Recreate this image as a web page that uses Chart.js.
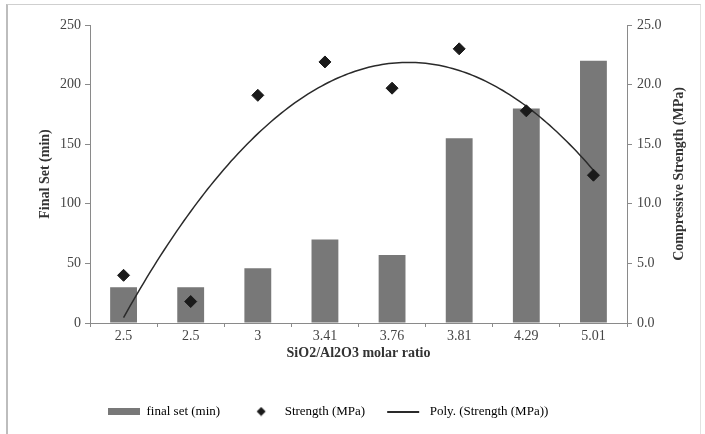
<!DOCTYPE html>
<html><head><meta charset="utf-8">
<script src="https://cdn.jsdelivr.net/npm/chart.js@4"></script>
<style>
html,body{margin:0;padding:0;background:#fff;}
#wrap{position:relative;width:705px;height:434px;overflow:hidden;}
#frame{position:absolute;left:6px;top:4px;width:692px;height:440px;border-top:1px solid #cfcfcf;border-left:2px solid #bdbdbd;border-right:1px solid #e2e2e2;pointer-events:none;}
canvas{position:absolute;left:0;top:0;}
</style></head><body>
<div id="wrap"><canvas id="c" width="705" height="434"></canvas><div id="frame"></div></div>
<script>
// ---- data ----
const categories = ['2.5', '2.5', '3', '3.41', '3.76', '3.81', '4.29', '5.01'];
const finalSet = [30, 30, 46, 70, 57, 155, 180, 220];
const strength = [4.0, 1.8, 19.1, 21.9, 19.7, 23.0, 17.8, 12.4];
const leftTicks = [0, 50, 100, 150, 200, 250];
const rightTicks = [0, 5, 10, 15, 20, 25];
const seriesNames = ['final set (min)', 'Strength (MPa)', 'Poly. (Strength (MPa))'];
const xTitle = 'SiO2/Al2O3 molar ratio';
const yTitle = 'Final Set (min)';
const y1Title = 'Compressive Strength (MPa)';

// ---- order-2 polynomial trendline (least squares, like the spreadsheet) ----
function polyFit2(xs, ys) {
  const s = [0, 0, 0, 0, 0], t = [0, 0, 0];
  for (let i = 0; i < xs.length; i++) {
    for (let k = 0; k < 5; k++) s[k] += Math.pow(xs[i], k);
    for (let k = 0; k < 3; k++) t[k] += Math.pow(xs[i], k) * ys[i];
  }
  const M = [[s[0], s[1], s[2], t[0]], [s[1], s[2], s[3], t[1]], [s[2], s[3], s[4], t[2]]];
  for (let c = 0; c < 3; c++) {
    for (let r = c + 1; r < 3; r++) {
      const f = M[r][c] / M[c][c];
      for (let k = c; k < 4; k++) M[r][k] -= f * M[c][k];
    }
  }
  const co = [0, 0, 0];
  for (let r = 2; r >= 0; r--) {
    let v = M[r][3];
    for (let k = r + 1; k < 3; k++) v -= M[r][k] * co[k];
    co[r] = v / M[r][r];
  }
  return co;
}
const xIdx = strength.map((_, i) => i + 1);
const coef = polyFit2(xIdx, strength);
const trend = [];
for (let i = 0; i <= 140; i++) {
  const xi = i * (strength.length - 1) / 140;
  const xv = xi + 1;
  trend.push({ x: xi, y: coef[0] + coef[1] * xv + coef[2] * xv * xv });
}

// ---- legend swatches (50px wide boxes with left margin) ----
function swatch(w, h, draw) {
  const c = document.createElement('canvas');
  c.width = w; c.height = h;
  draw(c.getContext('2d'));
  return c;
}
const barSw = swatch(50, 7, g => { g.fillStyle = '#787878'; g.fillRect(18, 0, 32, 7); });
const dmSw = swatch(50, 10, g => { g.fillStyle = '#1a1a1a'; g.beginPath(); g.moveTo(33, 0.5); g.lineTo(37.5, 5); g.lineTo(33, 9.5); g.lineTo(28.5, 5); g.closePath(); g.fill(); });
const lnSw = swatch(50, 2, g => { g.fillStyle = '#2a2a2a'; g.fillRect(14, 0, 32, 2); });

const serif = "'Liberation Serif', 'DejaVu Serif', serif";
const tickFont = { family: serif, size: 14 };
const titleFont = { family: serif, size: 14, weight: 'bold' };
const axisColor = '#8a8a8a';

const legendShift = {
  id: 'legendShift',
  afterLayout(chart) {
    if (chart.legend) { chart.legend.left = 82; }
  }
};
// right-axis title reads bottom-to-top, like the left one
const rightTitle = {
  id: 'rightTitle',
  afterDraw(chart) {
    const a = chart.chartArea, s = chart.scales.y1, ctx = chart.ctx;
    ctx.save();
    ctx.translate(s.right - 26, (a.top + a.bottom) / 2);
    ctx.rotate(-Math.PI / 2);
    ctx.font = "bold 14px " + serif;
    ctx.fillStyle = '#333';
    ctx.textAlign = 'center';
    ctx.textBaseline = 'middle';
    ctx.fillText(y1Title, 0, 0);
    ctx.restore();
  }
};

new Chart(document.getElementById('c'), {
  type: 'bar',
  data: {
    labels: categories,
    datasets: [
      {
        type: 'line', label: seriesNames[1], data: strength,
        xAxisID: 'x', yAxisID: 'y1', showLine: false,
        pointStyle: 'rectRot', pointRadius: 6, pointHoverRadius: 6,
        pointBackgroundColor: '#1a1a1a', pointBorderColor: '#1a1a1a', pointBorderWidth: 1
      },
      {
        type: 'line', label: seriesNames[2], data: trend,
        xAxisID: 'xLin', yAxisID: 'y1', pointRadius: 0, borderColor: '#2a2a2a',
        borderWidth: 1.5, tension: 0, fill: false
      },
      {
        type: 'bar', label: seriesNames[0], data: finalSet,
        xAxisID: 'x', yAxisID: 'y', backgroundColor: '#787878',
        grouped: false, barPercentage: 0.4, categoryPercentage: 1.0
      }
    ]
  },
  options: {
    responsive: false,
    animation: false,
    layout: { padding: { top: 25, left: 0, right: 0, bottom: 6 } },
    plugins: {
      tooltip: { enabled: false },
      legend: {
        position: 'bottom', align: 'start',
        labels: {
          usePointStyle: true, pointStyleWidth: 50, padding: 8,
          font: { family: serif, size: 13 }, color: '#333',
          generateLabels: () => [
            { text: seriesNames[0], pointStyle: barSw, fillStyle: '#787878', strokeStyle: '#787878', lineWidth: 0, datasetIndex: 2, hidden: false },
            { text: seriesNames[1], pointStyle: dmSw, fillStyle: '#1a1a1a', strokeStyle: '#1a1a1a', lineWidth: 0, datasetIndex: 0, hidden: false },
            { text: seriesNames[2], pointStyle: lnSw, fillStyle: '#2a2a2a', strokeStyle: '#2a2a2a', lineWidth: 0, datasetIndex: 1, hidden: false }
          ]
        }
      }
    },
    scales: {
      x: {
        type: 'category', offset: true,
        grid: { display: true, drawOnChartArea: false, drawTicks: true, tickLength: 4, color: axisColor, offset: true },
        border: { display: true, color: axisColor, width: 1 },
        ticks: { font: tickFont, color: '#444', padding: 1, maxRotation: 0, autoSkip: false },
        title: { display: true, text: xTitle, font: titleFont, color: '#333', padding: { top: 0, bottom: 35 } },
        afterFit(s) { s.height = 74; }
      },
      xLin: { type: 'linear', display: false, offset: false, min: -0.5, max: categories.length - 0.5 },
      y: {
        position: 'left', min: leftTicks[0], max: leftTicks[leftTicks.length - 1],
        afterBuildTicks(s) { s.ticks = leftTicks.map(v => ({ value: v })); },
        grid: { display: true, drawOnChartArea: false, drawTicks: true, tickLength: 5, color: axisColor },
        border: { display: true, color: axisColor, width: 1 },
        ticks: { font: tickFont, color: '#444', padding: 4 },
        title: { display: true, text: yTitle, font: titleFont, color: '#333', padding: { top: 37, bottom: 0 } },
        afterFit(s) { s.width = 90; }
      },
      y1: {
        position: 'right', min: rightTicks[0], max: rightTicks[rightTicks.length - 1],
        afterBuildTicks(s) { s.ticks = rightTicks.map(v => ({ value: v })); },
        grid: { display: true, drawOnChartArea: false, drawTicks: true, tickLength: 5, color: axisColor },
        border: { display: true, color: axisColor, width: 1 },
        ticks: { font: tickFont, color: '#444', padding: 5, callback: v => Number(v).toFixed(1) },
        title: { display: false },
        afterFit(s) { s.width = 78; }
      }
    }
  },
  plugins: [legendShift, rightTitle]
});
</script>
</body></html>
